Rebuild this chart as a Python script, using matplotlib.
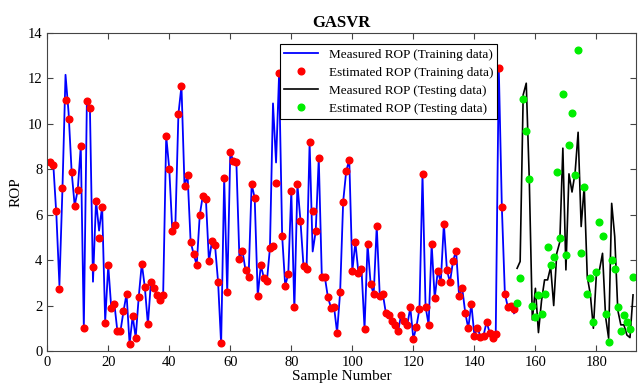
import numpy as np
import matplotlib.pyplot as plt

plt.rcParams['font.family'] = 'Liberation Serif'

# training data (samples 1..153)
train_est = [8.30, 8.20, 6.18, 2.73, 7.17, 11.04, 10.22, 7.90, 6.40, 7.08,
             9.02, 1.01, 11.01, 10.68, 3.70, 6.62, 4.96, 6.36, 1.22, 3.77,
             1.88, 2.09, 0.87, 0.87, 1.75, 2.51, 0.31, 1.54, 0.59, 2.39,
             3.85, 2.80, 1.17, 3.05, 2.76, 2.45, 2.23, 2.48, 9.46, 8.02,
             5.30, 5.54, 10.43, 11.67, 7.27, 7.74, 4.82, 4.26, 3.79, 5.99,
             6.84, 6.71, 3.96, 4.83, 4.65, 3.04, 0.34, 7.62, 2.58, 8.75,
             8.36, 8.30, 4.04, 4.40, 3.55, 3.25, 7.34, 6.74, 2.42, 3.77,
             3.23, 3.07, 4.54, 4.64, 7.39, 12.23, 5.07, 2.88, 3.38, 7.05,
             1.95, 7.34, 5.73, 3.73, 3.63, 9.18, 6.18, 5.27, 8.49, 3.27,
             3.25, 2.36, 1.91, 1.95, 0.81, 2.58, 6.58, 7.93, 8.41, 3.52,
             4.79, 3.44, 3.63, 0.98, 4.71, 2.95, 2.50, 5.51, 2.41, 2.51,
             1.66, 1.57, 1.34, 1.15, 0.87, 1.60, 1.32, 1.13, 1.92, 0.53,
             1.07, 1.85, 7.78, 1.95, 1.16, 4.71, 2.32, 3.51, 3.05, 5.61,
             3.57, 3.02, 3.96, 4.41, 2.41, 2.78, 1.69, 1.00, 2.09, 0.68,
             1.03, 0.62, 0.68, 1.28, 0.81, 0.57, 0.75, 12.48, 6.36, 2.51,
             1.92, 1.98, 1.84]

train_meas = [8.30, 8.20, 6.00, 2.90, 7.17, 12.16, 10.50, 7.90, 6.40, 7.08,
              9.02, 1.01, 11.01, 10.68, 3.05, 6.62, 5.30, 6.36, 1.30, 3.77,
              1.88, 2.09, 0.87, 0.87, 1.75, 2.51, 0.31, 1.54, 0.59, 2.39,
              3.85, 2.80, 1.17, 3.05, 2.76, 2.45, 2.23, 2.48, 9.46, 8.02,
              5.30, 5.54, 10.43, 11.67, 7.27, 7.74, 4.82, 4.26, 3.79, 5.99,
              6.84, 6.71, 3.96, 4.83, 4.65, 3.04, 0.30, 7.62, 2.58, 8.75,
              8.36, 8.30, 4.04, 4.40, 3.55, 3.25, 7.34, 6.74, 2.42, 3.77,
              3.23, 3.07, 4.54, 10.90, 8.30, 12.20, 5.07, 2.88, 3.38, 7.05,
              1.80, 7.34, 5.73, 3.73, 3.63, 9.18, 4.38, 5.27, 8.49, 3.27,
              3.25, 2.36, 1.91, 1.95, 0.81, 2.58, 6.58, 7.93, 8.41, 3.52,
              4.79, 3.44, 3.63, 0.98, 4.71, 2.95, 2.50, 5.51, 2.41, 2.51,
              1.66, 1.57, 1.34, 1.15, 0.87, 1.60, 1.32, 1.13, 1.92, 0.53,
              1.07, 1.85, 7.78, 1.95, 1.16, 4.71, 2.32, 3.51, 3.05, 5.61,
              3.57, 3.02, 3.96, 4.41, 2.41, 2.78, 1.69, 1.00, 2.09, 0.68,
              1.03, 0.62, 0.68, 1.28, 0.81, 0.57, 0.75, 12.48, 6.36, 2.51,
              1.92, 1.98, 1.66]

# testing data (samples 154..192)
test_meas = [3.64, 3.94, 11.28, 11.79, 7.53, 1.37, 2.76, 0.81, 2.20, 3.13,
             3.13, 3.70, 2.00, 4.30, 4.80, 8.93, 3.57, 7.80, 7.00, 7.83,
             9.63, 5.48, 7.24, 3.27, 2.50, 1.00, 3.42, 3.57, 4.30, 1.51,
             0.56, 6.50, 5.04, 1.80, 1.15, 1.15, 0.70, 0.59, 2.47]

test_est = [2.11, 3.23, 11.10, 9.68, 7.56, 1.98, 1.51, 2.47, 1.63, 2.51,
            4.57, 3.80, 4.14, 7.86, 4.99, 11.32, 4.23, 9.06, 10.50, 7.77,
            13.27, 4.33, 7.24, 2.53, 3.23, 1.29, 3.49, 5.70, 5.05, 1.63,
            0.38, 4.01, 3.61, 1.92, 0.90, 1.59, 1.26, 0.97, 3.26]

x_train = np.arange(1, len(train_meas) + 1)
x_test = np.arange(len(train_meas) + 1, len(train_meas) + 1 + len(test_meas))

fig = plt.figure(figsize=(6.38, 3.84), dpi=100)
ax = fig.add_axes([0.074, 0.086, 0.923, 0.828])

ax.plot(x_train, train_meas, color='blue', lw=1.3, label='Measured ROP (Training data)')
ax.plot(x_train, train_est, 'o', color='red', ms=4.8, label='Estimated ROP (Training data)')
ax.plot(x_test, test_meas, color='black', lw=1.2, label='Measured ROP (Testing data)')
ax.plot(x_test, test_est, 'o', color='#00ee00', ms=4.8, label='Estimated ROP (Testing data)')

ax.set_xlim(0, 193)
ax.set_ylim(0, 14)
ax.set_xticks(range(0, 181, 20))
ax.set_yticks(range(0, 15, 2))
ax.tick_params(direction='in', top=True, right=True, labelsize=10.5, length=4, color='#444444')
for s in ax.spines.values():
    s.set_color('#444444')

ax.set_title('GASVR', fontsize=12, fontweight='bold', pad=4)
ax.set_xlabel('Sample Number', fontsize=11, labelpad=1)
ax.set_ylabel('ROP', fontsize=11, labelpad=4)

leg = ax.legend(loc='upper center', bbox_to_anchor=(0.58, 0.985), fontsize=9.5,
                fancybox=False, framealpha=1, edgecolor='black',
                borderpad=0.3, labelspacing=0.45, handlelength=2.6)
leg.get_frame().set_linewidth(0.8)

plt.savefig('out.png')
